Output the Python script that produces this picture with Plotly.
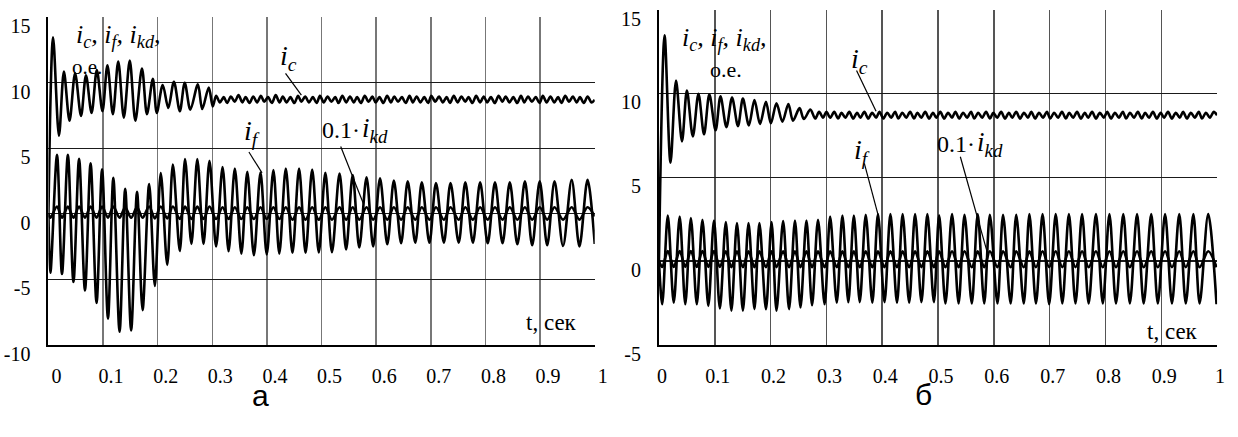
import plotly.graph_objects as go

# ---------------- data ----------------
t_ext_a = [0, 0.0036, 0.0157, 0.0248, 0.0356, 0.0458, 0.0561, 0.0669, 0.0772, 0.0881,
           0.0982, 0.1090, 0.1188, 0.1302, 0.1405, 0.1514, 0.1622, 0.1723, 0.1844, 0.1948,
           0.2056, 0.2175, 0.2278, 0.2405, 0.2501, 0.2617, 0.2725, 0.2839, 0.2948, 0.3069,
           0.3188, 0.3297, 0.3412, 0.3532, 0.3640, 0.3761, 0.3882, 0.3996, 0.4118, 0.4226,
           0.4345, 0.4467, 0.4588, 0.4707, 0.4828, 0.4949, 0.5069, 0.5190, 0.5329, 0.5449,
           0.5570, 0.5690, 0.5823, 0.5944, 0.6070, 0.6203, 0.6323, 0.6456, 0.6577, 0.6715,
           0.6835, 0.6974, 0.7094, 0.7239, 0.7360, 0.7510, 0.7631, 0.7770, 0.7902, 0.8041,
           0.8174, 0.8313, 0.8445, 0.8584, 0.8722, 0.8855, 0.8993, 0.9130, 0.9264, 0.9420,
           0.9578, 0.9720, 0.9868, 1.0]
if_a = [0, -4.5, 4.5, -4.6, 4.5, -5.2, 4.2, -5.85, 3.86, -6.8,
        3.4, -8.0, 2.74, -9.0, 1.9, -8.9, 1.67, -7.35, 2.26, -5.5,
        3.1, -3.9, 3.76, -2.84, 4.17, -2.3, 4.17, -2.3, 4.05, -2.5,
        3.57, -2.86, 3.45, -3.05, 3.21, -3.17, 3.14, -3.1, 3.33, -3.05,
        3.45, -2.98, 3.45, -2.98, 3.38, -2.95, 3.12, -2.93, 3.07, -2.73,
        2.95, -2.57, 2.78, -2.49, 2.71, -2.33, 2.54, -2.25, 2.47, -2.21,
        2.40, -2.21, 2.35, -2.21, 2.35, -2.21, 2.40, -2.21, 2.40, -2.25,
        2.40, -2.25, 2.40, -2.33, 2.47, -2.40, 2.47, -2.40, 2.47, -2.45,
        2.59, -2.49, 2.59, -2.3]
ikd_a = [0,
         -0.3, 0.55, -0.3, 0.55, -0.3, 0.55, -0.3, 0.55, -0.3, 0.55,
         -0.3, 0.55, -0.3, 0.5, -0.3, 0.5, -0.3, 0.55, -0.35, 0.55,
         -0.35, 0.55, -0.4, 0.55, -0.4, 0.55, -0.4, 0.55, -0.4, 0.5,
         -0.4, 0.5, -0.4, 0.5, -0.4, 0.5, -0.4, 0.5, -0.4, 0.5,
         -0.45, 0.5, -0.45, 0.5, -0.45, 0.5, -0.45, 0.5, -0.45, 0.5,
         -0.45, 0.5, -0.45, 0.5, -0.45, 0.5, -0.45, 0.5, -0.45, 0.5,
         -0.45, 0.5, -0.45, 0.5, -0.45, 0.5, -0.45, 0.5, -0.45, 0.5,
         -0.45, 0.5, -0.45, 0.5, -0.45, 0.5, -0.45, 0.5, -0.45, 0.5,
         -0.45, 0.5,
         -0.2]
ic_a_t0 = [0, 0.0085, 0.0193, 0.0283, 0.0386, 0.0488, 0.0597, 0.0687, 0.079, 0.0886,
           0.0989, 0.108, 0.118, 0.1278, 0.138, 0.1489, 0.1591, 0.1712, 0.1803, 0.1911,
           0.1983, 0.2092, 0.2194, 0.2297, 0.2405, 0.2495, 0.2598, 0.2736, 0.2815, 0.2935,
           0.3008]
ic_a_v0 = [0, 13.46, 5.96, 10.85, 7.10, 10.72, 7.46, 10.56, 7.70, 10.96,
           7.83, 11.33, 7.59, 11.62, 7.34, 11.69, 7.10, 11.09, 7.59, 10.29,
           7.70, 9.83, 8.07, 10.07, 7.83, 10.0, 7.95, 9.88, 7.99, 9.64,
           8.19]
ripple_t = [0.307, 0.314, 0.321, 0.327, 0.334, 0.341, 0.348, 0.355, 0.361, 0.368,
            0.375, 0.382, 0.389, 0.395, 0.402, 0.409, 0.416, 0.423, 0.429, 0.436,
            0.443, 0.450, 0.457, 0.463, 0.470, 0.477, 0.484, 0.491, 0.497, 0.504,
            0.511, 0.518, 0.525, 0.531, 0.538, 0.545, 0.552, 0.559, 0.565, 0.572,
            0.579, 0.586, 0.593, 0.599, 0.606, 0.613, 0.620, 0.627, 0.633, 0.640,
            0.647, 0.654, 0.661, 0.667, 0.674, 0.681, 0.688, 0.695, 0.701, 0.708,
            0.715, 0.722, 0.729, 0.735, 0.742, 0.749, 0.756, 0.763, 0.769, 0.776,
            0.783, 0.790, 0.797, 0.803, 0.810, 0.817, 0.824, 0.831, 0.837, 0.844,
            0.851, 0.858, 0.865, 0.871, 0.878, 0.885, 0.892, 0.899, 0.905, 0.912,
            0.919, 0.926, 0.933, 0.939, 0.946, 0.953, 0.960, 0.967, 0.973, 0.980,
            0.987, 0.994]
ic_a_ripple = [9.0, 8.5, 8.9, 8.45, 8.95, 8.55, 9.05, 8.5, 8.9, 8.45,
               8.95, 8.5, 9.0, 8.55, 8.9, 8.45, 9.05, 8.5, 8.95, 8.5,
               8.9, 8.45, 9.0, 8.55, 8.95, 8.5, 8.9, 8.45, 9.0, 8.5,
               8.95, 8.55, 8.9, 8.45, 9.0, 8.5, 8.95, 8.5, 8.9, 8.45,
               9.0, 8.55, 8.95, 8.5, 8.9, 8.45, 9.0, 8.5, 8.95, 8.55,
               8.9, 8.45, 9.0, 8.5, 8.95, 8.5, 8.9, 8.45, 9.0, 8.55,
               8.95, 8.5, 8.9, 8.45, 9.0, 8.5, 8.95, 8.55, 8.9, 8.45,
               9.0, 8.5, 8.95, 8.5, 8.9, 8.45, 9.0, 8.55, 8.95, 8.5,
               8.9, 8.45, 9.0, 8.5, 8.95, 8.55, 8.9, 8.45, 9.0, 8.5,
               8.95, 8.5, 8.9, 8.45, 9.0, 8.55, 8.95, 8.5, 8.9, 8.45,
               8.95, 8.5]

t_ext_b = [0, 0.0059, 0.0159, 0.0265, 0.0372, 0.0472, 0.0572, 0.0678, 0.0779, 0.0885,
           0.0986, 0.1092, 0.1198, 0.1298, 0.1398, 0.1504, 0.1605, 0.1711, 0.1800, 0.1917,
           0.2018, 0.2106, 0.2225, 0.2331, 0.2437, 0.2536, 0.2643, 0.2743, 0.2850, 0.2968,
           0.3067, 0.3186, 0.3287, 0.3393, 0.3492, 0.3598, 0.3705, 0.3823, 0.3924, 0.4041,
           0.4147, 0.4265, 0.4366, 0.4483, 0.4589, 0.4703, 0.4809, 0.4926, 0.5020, 0.5133,
           0.5251, 0.5369, 0.5475, 0.5605, 0.5711, 0.5828, 0.5929, 0.6065, 0.6165, 0.6301,
           0.6401, 0.6536, 0.6637, 0.6755, 0.6873, 0.6991, 0.7109, 0.7227, 0.7345, 0.7463,
           0.7581, 0.7699, 0.7829, 0.7952, 0.8071, 0.8189, 0.8319, 0.8437, 0.8566, 0.8685,
           0.8820, 0.8938, 0.9068, 0.9191, 0.9322, 0.9439, 0.9575, 0.9687, 0.9841, 0.999]
if_b = [0,
        -2.58, 2.71, -2.49, 2.65, -2.58, 2.57, -2.58, 2.46, -2.68, 2.42,
        -2.83, 2.33, -2.96, 2.27, -2.96, 2.27, -2.87, 2.27, -2.87, 2.33,
        -2.96, 2.38, -2.87, 2.42, -2.77, 2.42, -2.64, 2.46, -2.58, 2.65,
        -2.49, 2.71, -2.45, 2.71, -2.45, 2.76, -2.49, 2.80, -2.45, 2.80,
        -2.49, 2.80, -2.49, 2.80, -2.45, 2.80, -2.45, 2.73, -2.53, 2.80,
        -2.53, 2.76, -2.53, 2.80, -2.53, 2.76, -2.53, 2.76, -2.53, 2.76,
        -2.53, 2.80, -2.53, 2.80, -2.58, 2.80, -2.53, 2.80, -2.53, 2.80,
        -2.53, 2.80, -2.53, 2.80, -2.53, 2.80, -2.53, 2.80, -2.53, 2.80,
        -2.53, 2.80, -2.53, 2.80, -2.53, 2.80, -2.53, 2.80,
        -2.58]
ikd_b = [0,
         -0.35, 0.6, -0.35, 0.6, -0.35, 0.6, -0.35, 0.6, -0.35, 0.6,
         -0.35, 0.58, -0.37, 0.58, -0.37, 0.58, -0.37, 0.58, -0.37, 0.58,
         -0.37, 0.58, -0.37, 0.58, -0.37, 0.58, -0.37, 0.58, -0.37, 0.58,
         -0.37, 0.58, -0.37, 0.58, -0.37, 0.58, -0.37, 0.58, -0.37, 0.58,
         -0.37, 0.58, -0.37, 0.58, -0.37, 0.58, -0.37, 0.58, -0.37, 0.58,
         -0.37, 0.58, -0.37, 0.58, -0.37, 0.58, -0.37, 0.58, -0.37, 0.58,
         -0.37, 0.58, -0.37, 0.58, -0.37, 0.58, -0.37, 0.58, -0.37, 0.58,
         -0.37, 0.58, -0.37, 0.58, -0.37, 0.58, -0.37, 0.58, -0.37, 0.58,
         -0.37, 0.58, -0.37, 0.58, -0.37, 0.58, -0.37, 0.58,
         -0.37]
ic_b_t0 = [0, 0.0101, 0.0207, 0.0306, 0.0413, 0.0501, 0.0607, 0.0708, 0.0808, 0.0903,
           0.1015, 0.1103, 0.1209, 0.1310, 0.1416, 0.1504, 0.1611, 0.1711, 0.1811, 0.1917,
           0.2005, 0.2106, 0.2212, 0.2319, 0.2401, 0.2519, 0.2596, 0.2713, 0.280, 0.287,
           0.294, 0.300]
ic_b_v0 = [0, 13.47, 5.86, 10.77, 7.14, 10.17, 7.43, 9.98, 7.56, 9.94,
           7.80, 9.83, 7.99, 9.75, 8.05, 9.69, 8.09, 9.60, 8.18, 9.50,
           8.22, 9.41, 8.31, 9.37, 8.37, 9.12, 8.47, 9.03, 8.5, 8.9,
           8.55, 8.9]
ic_b_ripple = [8.55, 8.9, 8.5, 8.85, 8.55, 8.9, 8.5, 8.85, 8.55, 8.9,
               8.5, 8.85, 8.55, 8.9, 8.5, 8.85, 8.55, 8.9, 8.5, 8.85,
               8.55, 8.9, 8.5, 8.85, 8.55, 8.9, 8.5, 8.85, 8.55, 8.9,
               8.5, 8.85, 8.55, 8.9, 8.5, 8.85, 8.55, 8.9, 8.5, 8.85,
               8.55, 8.9, 8.5, 8.85, 8.55, 8.9, 8.5, 8.85, 8.55, 8.9,
               8.5, 8.85, 8.55, 8.9, 8.5, 8.85, 8.55, 8.9, 8.5, 8.85,
               8.55, 8.9, 8.5, 8.85, 8.55, 8.9, 8.5, 8.85, 8.55, 8.9,
               8.5, 8.85, 8.55, 8.9, 8.5, 8.85, 8.55, 8.9, 8.5, 8.85,
               8.55, 8.9, 8.5, 8.85, 8.55, 8.9, 8.5, 8.85, 8.55, 8.9,
               8.5, 8.85, 8.55, 8.9, 8.5, 8.85, 8.55, 8.9, 8.5, 8.85,
               8.55, 8.9]

x_ticks = [0, 0.1, 0.2, 0.3, 0.4, 0.5, 0.6, 0.7, 0.8, 0.9, 1]
x_ticktext = ["0", "0.1", "0.2", "0.3", "0.4", "0.5", "0.6", "0.7", "0.8", "0.9", "1"]
y_ticks_a = [-10, -5, 0, 5, 10, 15]
y_ticktext_a = ["-10", "-5", "0", "5", "10", "15"]
y_ticks_b = [-5, 0, 5, 10, 15]
y_ticktext_b = ["-5", "0", "5", "10", "15"]

# ---------------- figure ----------------
W, H = 1238, 437
SERIF = "Liberation Serif, Times New Roman, serif"
SANS = "Liberation Sans, Arial, sans-serif"


def pair(t, v):
    n = min(len(t), len(v))
    return list(t[:n]), list(v[:n])


line_style = dict(color="black", width=2.6, shape="spline", smoothing=0.9)

fig = go.Figure()
series = [
    ("x", "y", ic_a_t0 + ripple_t + [1.0], ic_a_v0 + ic_a_ripple + [8.7]),
    ("x", "y", t_ext_a, if_a),
    ("x", "y", t_ext_a, ikd_a),
    ("x2", "y2", ic_b_t0 + ripple_t + [1.0], ic_b_v0 + ic_b_ripple + [8.7]),
    ("x2", "y2", t_ext_b, if_b),
    ("x2", "y2", t_ext_b, ikd_b),
]
for xa, ya, t, v in series:
    tt, vv = pair(t, v)
    fig.add_trace(go.Scatter(x=tt, y=vv, mode="lines", line=line_style,
                             xaxis=xa, yaxis=ya, showlegend=False, hoverinfo="skip"))

ybot = (H - 361) / H


def xaxis(domain, anchor, gcol, shift):
    return dict(domain=domain, anchor=anchor, range=[0, 1], tickvals=x_ticks,
                ticktext=x_ticktext, showgrid=True, gridcolor=gcol, gridwidth=1.5,
                showline=True, linecolor="black", linewidth=2, ticks="",
                zeroline=False, tickfont=dict(family=SERIF, size=20, color="black"),
                ticklabelshift=shift, ticklabelstandoff=12, fixedrange=True)


def yaxis(domain, anchor, rng, tv, tt):
    return dict(domain=domain, anchor=anchor, range=rng, tickvals=tv, ticktext=tt,
                showgrid=True, gridcolor="#1a1a1a", gridwidth=1.2,
                showline=True, linecolor="black", linewidth=2, ticks="",
                zeroline=False, tickfont=dict(family=SERIF, size=20, color="black"),
                ticklabelshift=9, ticklabelstandoff=12, fixedrange=True)


fig.update_layout(
    width=W, height=H, margin=dict(l=0, r=0, t=0, b=0),
    paper_bgcolor="white", plot_bgcolor="white", showlegend=False,
    xaxis=xaxis([47 / W, 600 / W], "y", "#777777", 8),
    yaxis=yaxis([ybot, (H - 16) / H], "x", [-10, 15], y_ticks_a, y_ticktext_a),
    xaxis2=xaxis([665 / W, 1230 / W], "y2", "#555555", 3),
    yaxis2=yaxis([ybot, (H - 8) / H], "x2", [-5, 15], y_ticks_b, y_ticktext_b),
)

ann = []


def txt(x, y, s, size, xref="x", yref="y", family=SERIF, style="normal",
        xanchor="center", yanchor="middle"):
    ann.append(dict(x=x, y=y, xref=xref, yref=yref, text=s, showarrow=False,
                    xanchor=xanchor, yanchor=yanchor, borderpad=0,
                    font=dict(family=family, size=size, color="black", style=style)))


head = "i<sub>c</sub>, i<sub>f</sub>, i<sub>kd</sub>,"
ic_lbl = "i<sub>c</sub>"
if_lbl = "i<sub>f</sub>"
kd_lbl = "i<sub>kd</sub>"

txt(0.128, 13.6, head, 26, style="italic")
txt(0.0705, 11.2, "о.е.", 21)
txt(0.439, 11.96, ic_lbl, 28, style="italic")
txt(0.3725, 6.23, if_lbl, 28, style="italic")
txt(0.5714, 6.38, "0.1·", 24, xanchor="right")
txt(0.5714, 6.38, kd_lbl, 27, style="italic", xanchor="left")
txt(0.920, -8.26, "t, сек", 23)
txt(0.1168, 13.25, head, 26, "x2", "y2", style="italic")
txt(0.1204, 11.45, "о.е.", 22, "x2", "y2")
txt(0.359, 11.94, ic_lbl, 28, "x2", "y2", style="italic")
txt(0.3646, 6.56, if_lbl, 28, "x2", "y2", style="italic")
txt(0.568, 7.01, "0.1·", 24, "x2", "y2", xanchor="right")
txt(0.568, 7.01, kd_lbl, 27, "x2", "y2", style="italic", xanchor="left")
txt(0.920, -4.21, "t, сек", 23, "x2", "y2")
txt(262 / W, 4 / H, "а", 30, "paper", "paper", SANS, yanchor="bottom")
txt(933 / W, 5 / H, "б", 30, "paper", "paper", SANS, yanchor="bottom")
fig.update_layout(annotations=ann)

leaders = [
    ("x", "y", 0.434, 10.72, 0.463, 9.06),
    ("x", "y", 0.367, 4.71, 0.391, 3.12),
    ("x", "y", 0.535, 5.14, 0.577, 0.72),
    ("x2", "y2", 0.354, 11.37, 0.389, 8.94),
    ("x2", "y2", 0.368, 5.82, 0.393, 2.71),
    ("x2", "y2", 0.540, 6.22, 0.588, 0.55),
]
for xr, yr, x0, y0, x1, y1 in leaders:
    fig.add_shape(type="line", xref=xr, yref=yr, x0=x0, y0=y0, x1=x1, y1=y1,
                  line=dict(color="black", width=1.2))

fig.write_html("out.html", config={"staticPlot": True},
               post_script="document.body.style.margin='0px';")
